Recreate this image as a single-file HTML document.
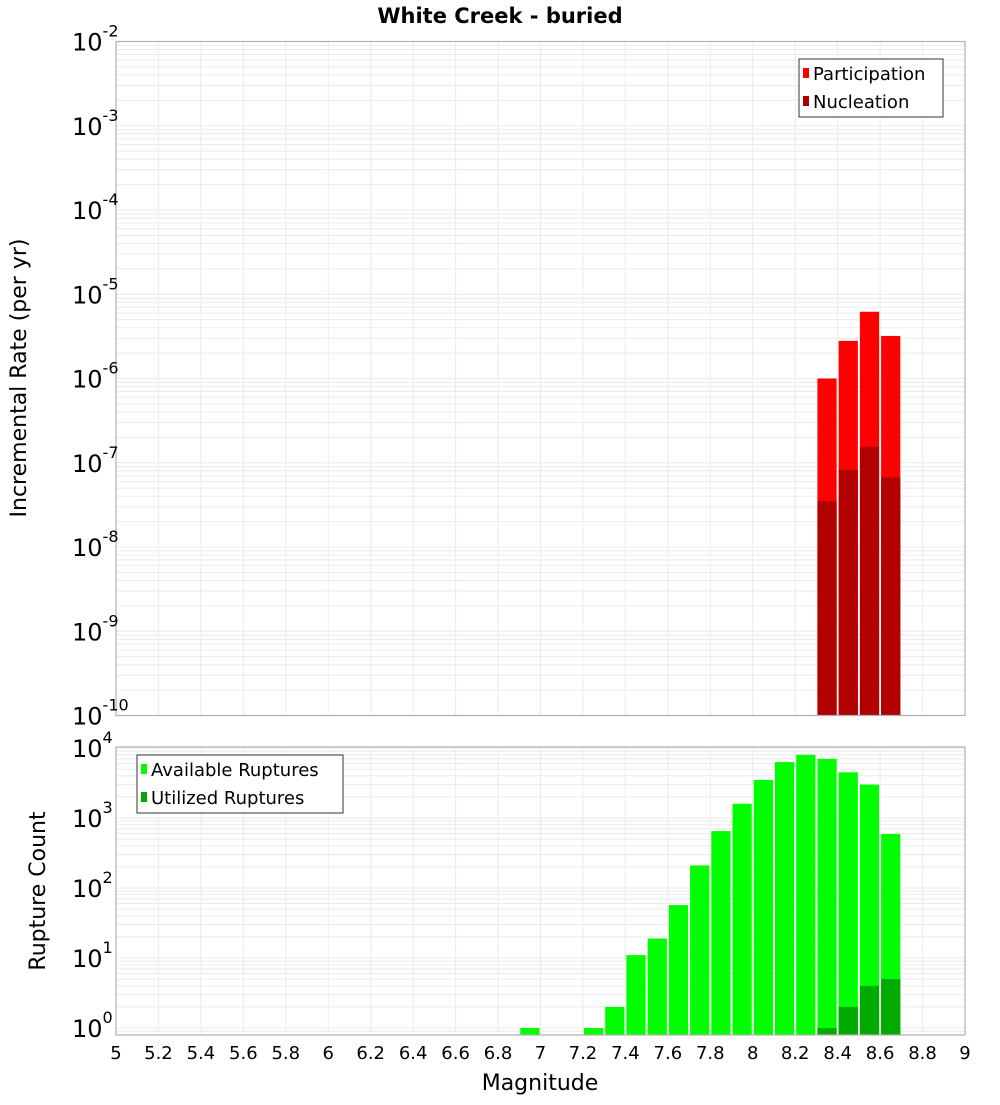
<!DOCTYPE html>
<html><head><meta charset="utf-8"><style>
body{margin:0;background:#fff;}
svg text{font-family:"DejaVu Sans","Liberation Sans",sans-serif;}
</style></head><body>
<svg id="chart" width="1000" height="1100" xmlns="http://www.w3.org/2000/svg"></svg>
<script>
// data
const topBins = [8.3, 8.4, 8.5, 8.6];
const participation = [1.0e-6, 2.8e-6, 6.2e-6, 3.2e-6];
const nucleation = [3.5e-8, 8.2e-8, 1.55e-7, 6.7e-8];
const botBins = [6.9, 7.2, 7.3, 7.4, 7.5, 7.6, 7.7, 7.8, 7.9, 8.0, 8.1, 8.2, 8.3, 8.4, 8.5, 8.6];
const available = [1, 1, 2, 11, 19, 57, 210, 650, 1600, 3500, 6300, 8000, 7000, 4500, 3000, 590];
const utilBins = [8.3, 8.4, 8.5, 8.6];
const utilized = [1, 2, 4, 5];
const xTicks = ["5","5.2","5.4","5.6","5.8","6","6.2","6.4","6.6","6.8","7","7.2","7.4","7.6","7.8","8","8.2","8.4","8.6","8.8","9"];
const topExp = [-10,-9,-8,-7,-6,-5,-4,-3,-2];
const botExp = [0,1,2,3,4];

const svg = document.getElementById('chart');
const NS = 'http://www.w3.org/2000/svg';
function el(tag, attrs, parent){const e=document.createElementNS(NS,tag);for(const k in attrs)e.setAttribute(k,attrs[k]);(parent||svg).appendChild(e);return e;}
const L=116,R=965;
const xs = m => L + (m-5)/4*(R-L);
const T1=41.5,B1=715.5, yT = v => B1 - (Math.log10(v)+10)/8*(B1-T1);
const T2=747,B2=1035, y0=1028, dec=70, yB = v => y0 - Math.log10(v)*dec;

function grid(top,bot,yf,lo,hi,name){
  const g=el('g',{});
  
  
  for(let e=lo;e<=hi;e++)for(let k=1;k<10;k++){const y=yf(k*Math.pow(10,e));if(y<top-0.1||y>bot+0.1)continue;el('line',{x1:L,x2:R,y1:y,y2:y,stroke:'#ebebeb','stroke-width':1},g);}
  for(let i=0;i<xTicks.length;i++){const x=xs(5+i*0.2);el('line',{x1:x,x2:x,y1:top,y2:bot,stroke:'#ebebeb','stroke-width':1},g);}
}
grid(T1,B1,yT,-10,-2,'top-grid');
grid(T2,B2,yB,-1,4,'bottom-grid');

function bars(bins,vals,yf,base,color,name){
  bins.forEach((b,i)=>{
    const x1=xs(b)+1,x2=xs(b+0.1)-1,y=yf(vals[i]);
    const r=el('rect',{x:x1,y:y,width:x2-x1,height:base-y,fill:color});
    
    
  });
}
bars(topBins,participation,yT,B1,'#ff0000','participation-bar');
bars(topBins,nucleation,yT,B1,'#b20000','nucleation-bar');
bars(botBins,available,yB,B2,'#00ff00','available-bar');
bars(utilBins,utilized,yB,B2,'#00aa00','utilized-bar');

el('rect',{x:L,y:T1,width:R-L,height:B1-T1,fill:'none',stroke:'#b0b0b0','stroke-width':1.2,});
el('rect',{x:L,y:T2,width:R-L,height:B2-T2,fill:'none',stroke:'#b0b0b0','stroke-width':1.2,});

function ylab(e,y,name){
  const t=el('text',{x:72,y:y+9,'font-size':24,fill:'#000'});
  
  
  t.textContent='10';
  const s=el('tspan',{dy:-14,'font-size':16},t);s.textContent=String(e);
}
topExp.forEach(e=>ylab(e,yT(Math.pow(10,e)),'top-y-tick-label'));
botExp.forEach(e=>ylab(e,yB(Math.pow(10,e)),'bottom-y-tick-label'));
xTicks.forEach((s,i)=>{
  const t=el('text',{x:xs(5+i*0.2),y:1059,'font-size':18,'text-anchor':'middle',fill:'#000'});
  
  
  t.textContent=s;
});

function txt(s,attrs,name){const t=el('text',attrs);t.textContent=s;return t;}
txt('White Creek - buried',{x:500,y:23,'font-size':21,'font-weight':'bold','text-anchor':'middle'},'chart-title');
txt('Magnitude',{x:540,y:1090,'font-size':22,'text-anchor':'middle'},'x-axis-title');
txt('Incremental Rate (per yr)',{x:0,y:0,'font-size':22,'text-anchor':'middle',transform:'translate(26,378) rotate(-90)'},'top-y-axis-title');
txt('Rupture Count',{x:0,y:0,'font-size':22,'text-anchor':'middle',transform:'translate(45,891) rotate(-90)'},'bottom-y-axis-title');

// legends
function legend(x,y,w,h,items,name){
  const g=el('g',{});
  el('rect',{x:x,y:y,width:w,height:h,fill:'#fff',stroke:'#333','stroke-width':1},g);
  items.forEach((it,i)=>{
    const cy=y+14+i*28;
    el('rect',{x:x+4,y:cy-5,width:6,height:10,fill:it[1]},g);
    const t=el('text',{x:x+14,y:cy+7,'font-size':18},g);t.textContent=it[0];
  });
}
legend(799,59,144,58,[['Participation','#ff0000'],['Nucleation','#b20000']],'top-legend');
legend(137,755,206,58,[['Available Ruptures','#00ff00'],['Utilized Ruptures','#00aa00']],'bottom-legend');
</script>
</body></html>
